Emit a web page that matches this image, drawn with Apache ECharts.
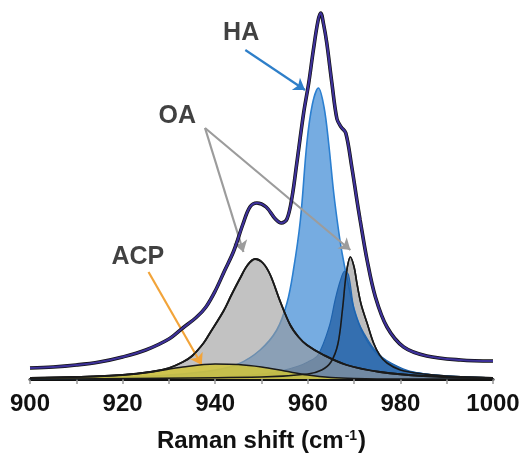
<!DOCTYPE html>
<html>
<head>
<meta charset="utf-8">
<script src="https://cdn.jsdelivr.net/npm/echarts@6/dist/echarts.min.js"></script>
<style>html,body{margin:0;padding:0;background:#fff}#c{width:523px;height:462px}</style>
</head>
<body>
<div id="c"></div>
<script>
// x: Raman shift (cm-1); y: intensity (arbitrary units)
var total = [[900,11],[905,12],[910,14],[915,17],[920,22],[925,29],[930,40],[933,51],[936,62],[938,72],[940,88],[942,108],[944,128],[946,155],[947.5,172],[949,176],[951,172],[953,160],[954.3,156],[955.5,160],[956.6,182],[957.6,215],[959.1,266],[960.2,296],[961.2,329],[962.2,358],[962.8,366],[963.4,355],[964.1,336],[965.2,296],[966.3,260],[967.2,252],[968.2,246],[969.5,212],[970.6,179],[971.3,159],[972.8,119],[974.6,82],[977.1,52],[980.7,32],[985.7,23],[993,19],[1000,18]];
var acp = [[900,1],[910,2],[920,4],[926,7],[933,12],[940,15],[945,14.5],[950,12],[955,8],[960,4],[965,1.5],[970,0.5],[980,0],[1000,0]];
var oa1 = [[900,1],[910,2],[920,4],[926,7],[930,11],[933,17],[935,23],[937.5,36],[939,47],[941.8,68],[943.5,84],[945.4,101],[947,114],[948.6,120],[950.3,116],[951.9,104],[954,78],[956.2,54],[958,42],[959.8,34],[963.4,24],[968.4,14],[975.6,7],[985,3],[1000,1]];
var ha = [[900,1],[920,2],[930,4],[940,9],[945,15],[949.7,29],[953.3,49],[955.5,76],[956.9,109],[958.4,159],[959.8,236],[961,275],[962.3,291],[963.5,272],[964.5,236],[965.6,186],[966.6,150],[967.4,126],[968.5,100],[970,70],[972,45],[975,25],[980,10],[985,5],[990,3],[1000,1]];
var ha2 = [[900,0],[940,2],[950,5],[955,9],[958,13],[960,17],[962.2,24],[964.6,52],[965.9,79],[967,98],[968,108],[968.8,104],[969.9,72],[971,56],[972.1,46],[974,32],[976,22],[978,16],[982,8],[990,3],[1000,1]];
var oa2 = [[900,0],[950,2],[960,5],[963,9],[965,17],[966.5,35],[967.5,70],[968.3,105],[969.2,122],[970,112],[970.6,96],[971.5,75],[972.8,56],[974.2,36],[975.5,24],[977.1,16],[980,9],[985,5],[990,3],[1000,1]];
var xTicks = [900, 920, 940, 960, 980, 1000];
var labels = [
  {name: 'HA', value: [945.6, 346]},
  {name: 'OA', value: [931.8, 263]},
  {name: 'ACP', value: [923.3, 122]}
];
var arrows = [
  {from: [946.5, 329], to: [959.4, 289], color: '#2e7fc9'},
  {from: [937.8, 251], to: [946.1, 127], color: '#9c9c9c'},
  {from: [937.8, 251], to: [969.2, 129], color: '#9c9c9c'},
  {from: [925.6, 107], to: [937.1, 14], color: '#f2a43a'}
];

var font = '"Liberation Sans", Arial, sans-serif';
var chart = echarts.init(document.getElementById('c'), null, {renderer: 'canvas'});

function fill(data, color, opacity, lineColor, lineWidth, z) {
  return {
    type: 'line', data: data, smooth: 0.35, symbol: 'none', z: z,
    lineStyle: {color: lineColor, width: lineWidth},
    areaStyle: {color: color, opacity: opacity, origin: 'start'},
    silent: true, animation: false
  };
}
function outline(data, color, width, z) {
  return {
    type: 'line', data: data, smooth: 0.35, symbol: 'none', z: z,
    lineStyle: {color: color, width: width}, silent: true, animation: false
  };
}

chart.setOption({
  animation: false,
  grid: {left: 30, right: 30, top: 0, bottom: 83, containLabel: false},
  xAxis: {
    type: 'value', min: 900, max: 1000, interval: 20,
    axisLine: {show: true, lineStyle: {color: '#111', width: 3}},
    axisTick: {show: true, length: 5, lineStyle: {color: '#999', width: 1.5}},
    minorTick: {show: true, splitNumber: 2, length: 5, lineStyle: {color: '#999', width: 1.5}},
    splitLine: {show: false},
    axisLabel: {
      fontSize: 24, fontWeight: 'bold', color: '#111', fontFamily: font, margin: 13,
      formatter: function (v) { return xTicks.indexOf(v) >= 0 ? String(v) : ''; }
    },
    name: 'Raman shift (cm{sup|-1})',
    nameLocation: 'middle', nameGap: 50,
    nameTextStyle: {
      fontSize: 24, fontWeight: 'bold', color: '#111', fontFamily: font,
      rich: {sup: {fontSize: 14, fontWeight: 'bold', color: '#111', fontFamily: font, verticalAlign: 'top', padding: [0, 1, 11, 1]}}
    }
  },
  yAxis: {type: 'value', min: 0, max: 379, show: false},
  series: [
    fill(oa2, '#9a9a9a', 0.65, '#222', 1.6, 1),
    fill(ha, '#5e9edc', 0.85, '#2b7fd0', 1.6, 2),
    fill(ha2, '#1d5aa0', 0.7, '#1f63ad', 1.2, 3),
    fill(oa1, '#999999', 0.6, '#1a1a1a', 1.8, 4),
    fill(acp, '#d0c43a', 0.85, '#1a1a1a', 1.6, 5),
    outline(oa1, '#1a1a1a', 1.8, 6),
    outline(oa2, '#1a1a1a', 1.6, 6),
    outline(total, '#111', 3.6, 7),
    outline(total, '#3d3199', 2.2, 8),
    {
      type: 'scatter', data: labels, symbolSize: 0, z: 10, silent: true,
      label: {show: true, position: 'inside', formatter: '{b}', fontSize: 25, fontWeight: 'bold', color: '#111', fontFamily: font},
      markLine: {
        silent: true, symbol: ['none', 'arrow'], symbolSize: 11, animation: false,
        label: {show: false},
        data: arrows.map(function (a) {
          return [{coord: a.from, lineStyle: {color: a.color, width: 2.2, type: 'solid'}, itemStyle: {color: a.color}}, {coord: a.to}];
        })
      }
    }
  ]
});
</script>
</body>
</html>
